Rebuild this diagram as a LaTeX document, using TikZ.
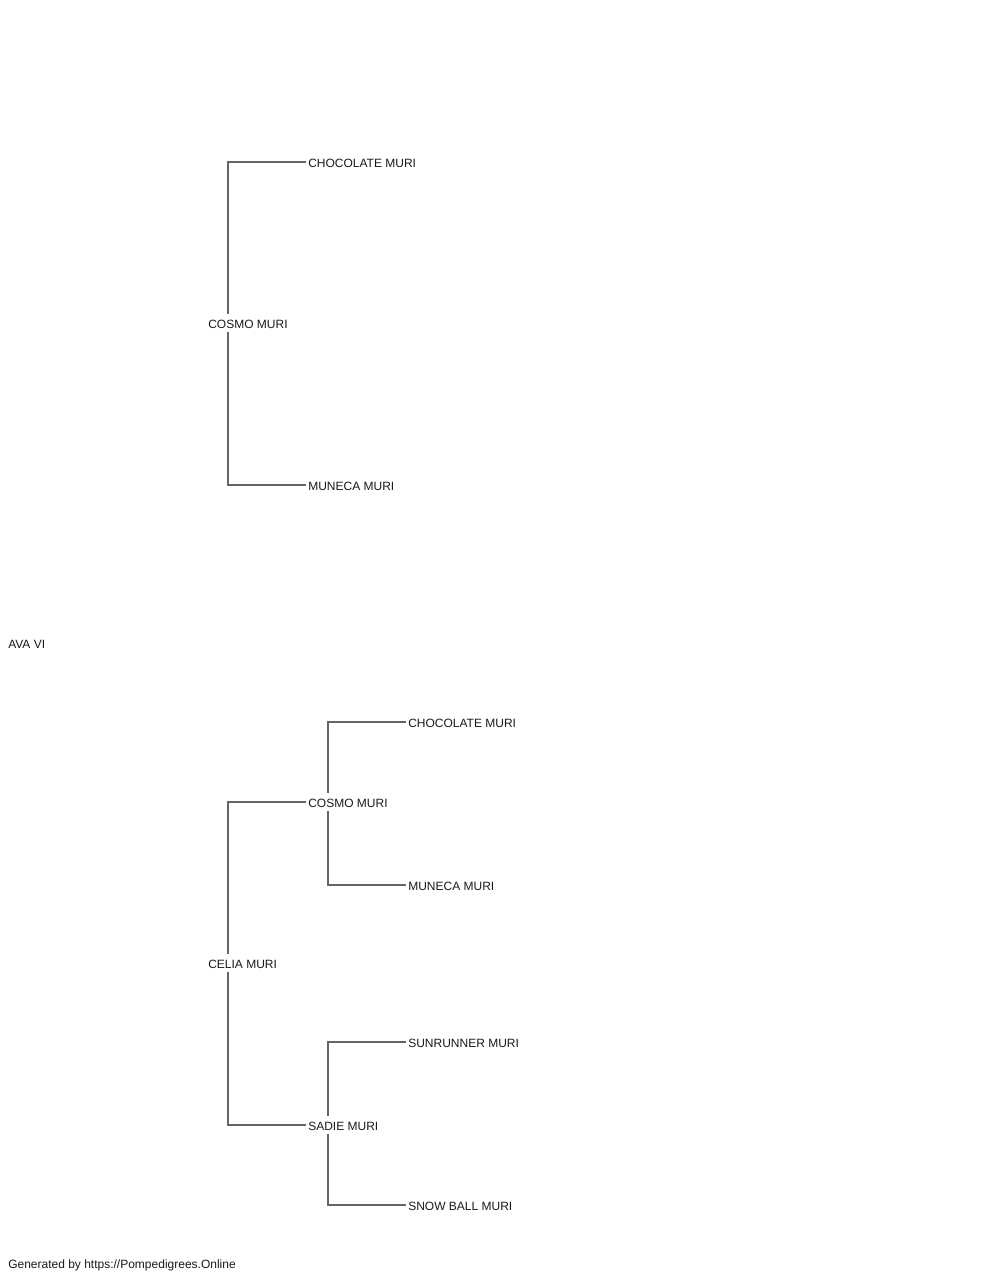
\documentclass[tikz,border=0pt]{standalone}
\usepackage{fontspec}
\setmainfont{Liberation Sans}
\begin{document}
\begin{tikzpicture}[x=0.75pt,y=-0.75pt,
    horse/.style={anchor=west,inner xsep=1.5pt,inner ysep=2.65pt,
      text height=8pt,text depth=0pt,font=\fontsize{9pt}{11pt}\selectfont,
      text=black!90},
    link/.style={draw=black!60,line width=1.1pt}]
  \useasboundingbox (0,0) rectangle (1000,1280);
  \node[horse] (ava) at (6,643) {AVA VI};
  \node[horse] (cosmo) at (206,323) {COSMO MURI};
  \node[horse] (choc) at (306,162) {CHOCOLATE MURI};
  \node[horse] (mun) at (306,485) {MUNECA MURI};
  \node[horse] (celia) at (206,963) {CELIA MURI};
  \node[horse] (cosmob) at (306,802) {COSMO MURI};
  \node[horse] (chocb) at (406,722) {CHOCOLATE MURI};
  \node[horse] (munb) at (406,885) {MUNECA MURI};
  \node[horse] (sadie) at (306,1125) {SADIE MURI};
  \node[horse] (sun) at (406,1042) {SUNRUNNER MURI};
  \node[horse] (snow) at (406,1205) {SNOW BALL MURI};
  \node[horse] (gen) at (6,1263) {Generated by https://Pompedigrees.Online};
  % stems of the brackets
  \coordinate (s1) at (228,0);
  \coordinate (s2) at (328,0);
  \begin{scope}[link]
    \draw (cosmo.north -| s1) |- (choc.west);
    \draw (cosmo.south -| s1) |- (mun.west);
    \draw (celia.north -| s1) |- (cosmob.west);
    \draw (celia.south -| s1) |- (sadie.west);
    \draw (cosmob.north -| s2) |- (chocb.west);
    \draw (cosmob.south -| s2) |- (munb.west);
    \draw (sadie.north -| s2) |- (sun.west);
    \draw (sadie.south -| s2) |- (snow.west);
  \end{scope}
\end{tikzpicture}
\end{document}
